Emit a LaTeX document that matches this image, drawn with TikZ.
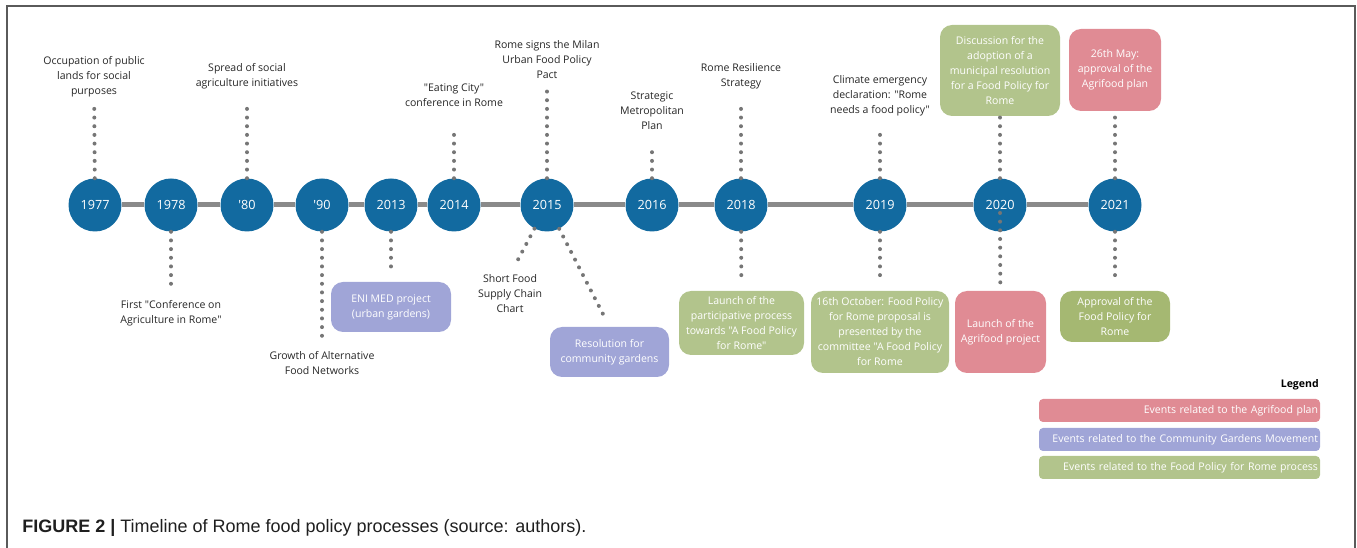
\documentclass[tikz,border=0pt]{standalone}
\usepackage{fontspec}
\setmainfont{Open Sans}[Ligatures=TeXOff]
\newfontfamily\capfont{Liberation Sans}
\definecolor{yearblue}{RGB}{18,106,160}
\definecolor{axisgray}{RGB}{138,138,138}
\definecolor{dotgray}{RGB}{118,118,118}
\definecolor{framegray}{RGB}{90,90,90}
\definecolor{agrired}{RGB}{224,139,148}
\definecolor{gardenblue}{RGB}{160,165,215}
\definecolor{policygreen}{RGB}{178,196,140}
\definecolor{policydark}{RGB}{165,184,114}
\begin{document}
\begin{tikzpicture}[x=0.75pt,y=-0.75pt,
  year/.style={circle,fill=yearblue,text=white,minimum size=39.75pt,inner sep=0pt,
    font=\fontsize{9.5}{11}\selectfont},
  axis/.style={draw=axisgray,line width=3.75pt},
  dotline/.style={draw=dotgray,line width=3pt,line cap=round,dash pattern=on 0pt off 6.5pt},
  lbl/.style={align=center,inner sep=0pt,text=black!85,font=\fontsize{7.9}{11.25}\selectfont},
  event/.style={rounded corners=9pt,align=center,text=white,inner sep=0pt,
    font=\fontsize{7.9}{11.25}\selectfont},
  key/.style={rounded corners=3pt,text=white,inner xsep=1.5pt,inner ysep=0pt,minimum height=17.25pt,
    text width=207.75pt,align=right,font=\fontsize{7.9}{9}\selectfont}]
  \useasboundingbox (0,0) rectangle (1357,548);
  \draw[framegray,line width=1.1pt] (7,548) -- (7,6) -- (1355,6) -- (1355,548);

  \node[year] (c1977) at (95,205) {1977};
  \node[year] (c1978) at (171,205) {1978};
  \node[year] (c80) at (247,205) {'80};
  \node[year] (c90) at (322,205) {'90};
  \node[year] (c2013) at (391,205) {2013};
  \node[year] (c2014) at (454,205) {2014};
  \node[year] (c2015) at (547,205) {2015};
  \node[year] (c2016) at (652,205) {2016};
  \node[year] (c2018) at (741,205) {2018};
  \node[year] (c2019) at (880,205) {2019};
  \node[year] (c2020) at (1000,205) {2020};
  \node[year] (c2021) at (1115,205) {2021};
  \foreach \a/\b in {c1977/c1978,c1978/c80,c80/c90,c90/c2013,c2013/c2014,c2014/c2015,
      c2015/c2016,c2016/c2018,c2018/c2019,c2019/c2020,c2020/c2021}
    \draw[axis] (\a) -- (\b);

  \node[lbl] (l1977) at (94,77) {Occupation of public\\lands for social\\purposes};
  \node[lbl] (l80) at (247,76.5) {Spread of social\\agriculture initiatives};
  \node[lbl] (l2014) at (454,95.5) {"Eating City"\\conference in Rome};
  \node[lbl] (l2015) at (547,60) {Rome signs the Milan\\Urban Food Policy\\Pact};
  \node[lbl] (l2016) at (652,111) {Strategic\\Metropolitan\\Plan};
  \node[lbl] (l2018) at (741,76.5) {Rome Resilience\\Strategy};
  \node[lbl] (l2019) at (880,96) {Climate emergency\\declaration: "Rome\\needs a food policy"};
  \node[lbl] (l1978) at (171,313.5) {First "Conference on\\Agriculture in Rome"};
  \node[lbl] (l90) at (322,363.5) {Growth of Alternative\\Food Networks};
  \node[lbl] (lShort) at (510,294) {Short Food\\Supply Chain\\Chart};

  \node[event,fill=gardenblue,minimum width=90pt,minimum height=37.5pt] (bEni) at (391,307)
    {ENI MED project\\(urban gardens)};
  \node[event,fill=gardenblue,minimum width=89.25pt,minimum height=37.5pt] (bRes) at (609.5,352)
    {Resolution for\\community gardens};
  \node[event,fill=policygreen,minimum width=93.75pt,minimum height=48pt] (bLaunch) at (741.5,323)
    {Launch of the\\participative process\\towards "A Food Policy\\for Rome"};
  \node[event,fill=policygreen,minimum width=103.5pt,minimum height=61.5pt] (bOct) at (880,332)
    {16th October: Food Policy\\for Rome proposal is\\presented by the\\committee "A Food Policy\\for Rome};
  \node[event,fill=agrired,minimum width=68.25pt,minimum height=61.5pt] (bAgri) at (1000.5,332)
    {Launch of the\\Agrifood project};
  \node[event,fill=policydark,minimum width=82.5pt,minimum height=38.25pt] (bAppr) at (1115,316.5)
    {Approval of the\\Food Policy for\\Rome};
  \node[event,fill=policygreen,minimum width=90pt,minimum height=68.25pt] (bDisc) at (1000,70.5)
    {Discussion for the\\adoption of a\\municipal resolution\\for a Food Policy for\\Rome};
  \node[event,fill=agrired,minimum width=69pt,minimum height=61.5pt] (bMay) at (1115,70)
    {26th May:\\approval of the\\Agrifood plan};

  \draw[dotline,shorten >=8pt] (c1977) -- (l1977);
  \draw[dotline,shorten >=14pt] (c80) -- (l80);
  \draw[dotline,shorten >=15pt] (c2014) -- (l2014);
  \draw[dotline,shorten >=8.4pt] (c2015) -- (l2015);
  \draw[dotline,shorten >=10.6pt] (c2016) -- (l2016);
  \draw[dotline,shorten >=14pt] (c2018) -- (l2018);
  \draw[dotline,shorten >=13.3pt] (c2019) -- (l2019);
  \draw[dotline,shorten >=0.75pt] (c2020) -- (bDisc);
  \draw[dotline,shorten >=4.5pt] (c2021) -- (bMay);
  \draw[dotline,shorten >=12pt] (c1978) -- (l1978);
  \draw[dotline,shorten >=10.4pt] (c90) -- (l90);
  \draw[dotline,shorten >=5.25pt] (c2013) -- (bEni);
  \draw[dotline,shorten >=7pt] (c2015) -- (lShort.north);
  \draw[dotline,shorten >=5pt] (c2015) -- (bRes.north);
  \draw[dotline,shorten >=5.25pt] (c2018) -- (bLaunch);
  \draw[dotline,shorten >=5.25pt] (c2019) -- (bOct);
  \draw[dotline,shorten <=6pt,shorten >=5.25pt] (c2020.center) -- (bAgri);
  \draw[dotline,shorten >=5.25pt] (c2021) -- (bAppr);

  \node[anchor=east,inner sep=0pt,font=\fontsize{7.9}{9}\selectfont\bfseries] (legend) at (1319,385) {Legend};
  \node[key,fill=agrired] (kAgri) at (1179.5,410.5) {Events related to the Agrifood plan};
  \node[key,fill=gardenblue] (kGarden) at (1179.5,439.5) {Events related to the Community Gardens Movement};
  \node[key,fill=policygreen] (kPolicy) at (1179.5,467.5) {Events related to the Food Policy for Rome process};

  \node[anchor=base west,inner sep=0pt,text=black!88,font=\capfont\fontsize{13.5}{16}\selectfont] (caption)
    at (22,533) {\textbf{FIGURE 2 |} Timeline of Rome food policy processes (source: authors).};
\end{tikzpicture}
\end{document}
